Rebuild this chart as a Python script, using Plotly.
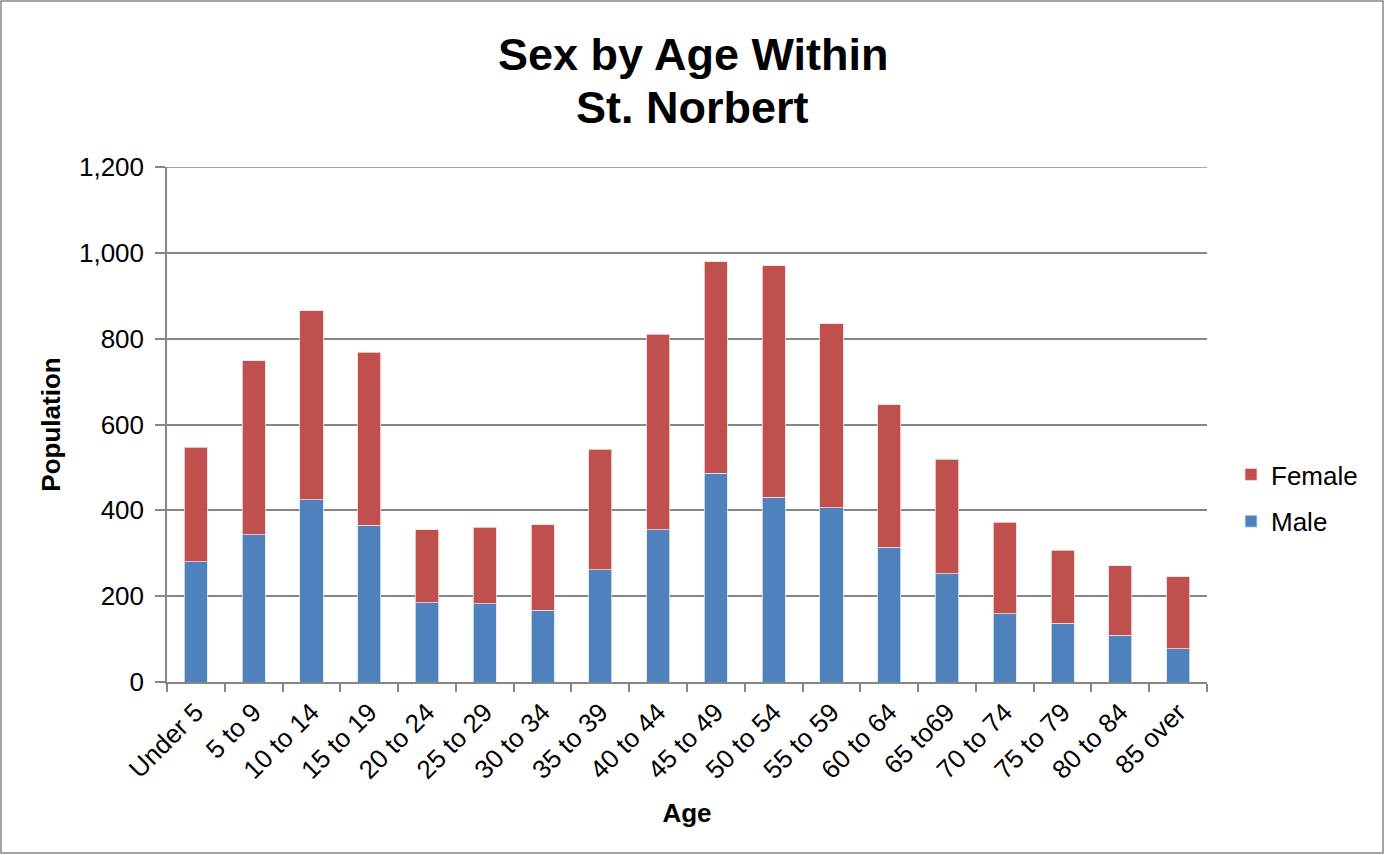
import plotly.graph_objects as go

categories = ["Under 5", "5 to 9", "10 to 14", "15 to 19", "20 to 24", "25 to 29",
              "30 to 34", "35 to 39", "40 to 44", "45 to 49", "50 to 54", "55 to 59",
              "60 to 64", "65 to69", "70 to 74", "75 to 79", "80 to 84", "85 over"]
male = [280, 343, 425, 365, 185, 182, 167, 262, 355, 486, 431, 406, 314, 252, 159, 137, 109, 77]
female = [267, 406, 440, 403, 170, 179, 200, 280, 455, 493, 539, 429, 332, 267, 213, 170, 162, 168]
y_ticks = [0, 200, 400, 600, 800, 1000, 1200]
title_lines = ["Sex by Age Within", "St. Norbert"]

FONT = "Arial, Liberation Sans, sans-serif"
W, H = 1385, 855
L, R, T, B = 167, 178, 167, 173
pw, ph = W - L - R, H - T - B
GRID = "#868686"

fig = go.Figure()
fig.add_trace(go.Bar(name="Male", x=categories, y=male, legendgroup="m", legendrank=2,
                     marker=dict(color="#4F81BD", line=dict(color="#DCE6F2", width=0.8))))
fig.add_trace(go.Bar(name="Female", x=categories, y=female, legendgroup="f", legendrank=1,
                     marker=dict(color="#C0504D", line=dict(color="#F2DCDB", width=0.8))))

fig.update_layout(
    width=W, height=H,
    barmode="stack", bargap=0.6,
    paper_bgcolor="white", plot_bgcolor="white",
    margin=dict(l=L, r=R, t=T, b=B, autoexpand=False),
    font=dict(family=FONT, color="black", size=26),
    legend=dict(x=(1231 - L) / pw, xanchor="left", y=(682 - 498) / ph, yanchor="middle",
                traceorder="grouped", font=dict(family=FONT, size=26, color="black"),
                tracegroupgap=10, bgcolor="rgba(0,0,0,0)"),
    xaxis=dict(title=dict(text="<b>Age</b>", font=dict(family=FONT, size=26), standoff=20),
               tickangle=-45, tickfont=dict(family=FONT, size=26),
               showline=True, linecolor=GRID, linewidth=1.5,
               ticks="outside", ticklen=8, tickcolor=GRID, tickwidth=1.5,
               ticklabelstandoff=3,
               tickson="boundaries", showgrid=False, automargin=False),
    yaxis=dict(title=dict(text="<b>Population</b>", font=dict(family=FONT, size=26), standoff=11),
               range=[0, 1200], tickvals=y_ticks,
               tickformat=",", tickfont=dict(family=FONT, size=26),
               showline=True, linecolor=GRID, linewidth=1.5,
               ticks="outside", ticklen=10, tickcolor=GRID, tickwidth=1.5,
               ticklabelstandoff=6,
               showgrid=True, gridcolor=GRID, gridwidth=1.5,
               zeroline=False, automargin=False),
)

# title lines
for i, line in enumerate(title_lines):
    fig.add_annotation(text="<b>%s</b>" % line, xref="paper", yref="paper",
                       x=(692.5 - L) / pw, y=(682 - (54 + 54 * i)) / ph,
                       xanchor="center", yanchor="middle", showarrow=False,
                       font=dict(family=FONT, size=45, color="black"))

# top gridline at max tick
fig.add_shape(type="line", xref="paper", yref="y", x0=0, x1=1, y0=y_ticks[-1], y1=y_ticks[-1],
              line=dict(color=GRID, width=1.5))

# chart border
fig.add_shape(type="rect", xref="paper", yref="paper",
              x0=(1 - L) / pw, x1=(W - 2 - L) / pw,
              y0=(682 - (H - 2)) / ph, y1=(682 - 1) / ph,
              line=dict(color=GRID, width=1.5), fillcolor="rgba(0,0,0,0)", layer="below")

fig.write_html("out.html", config={"displayModeBar": False},
               post_script="document.body.style.margin='0';")
